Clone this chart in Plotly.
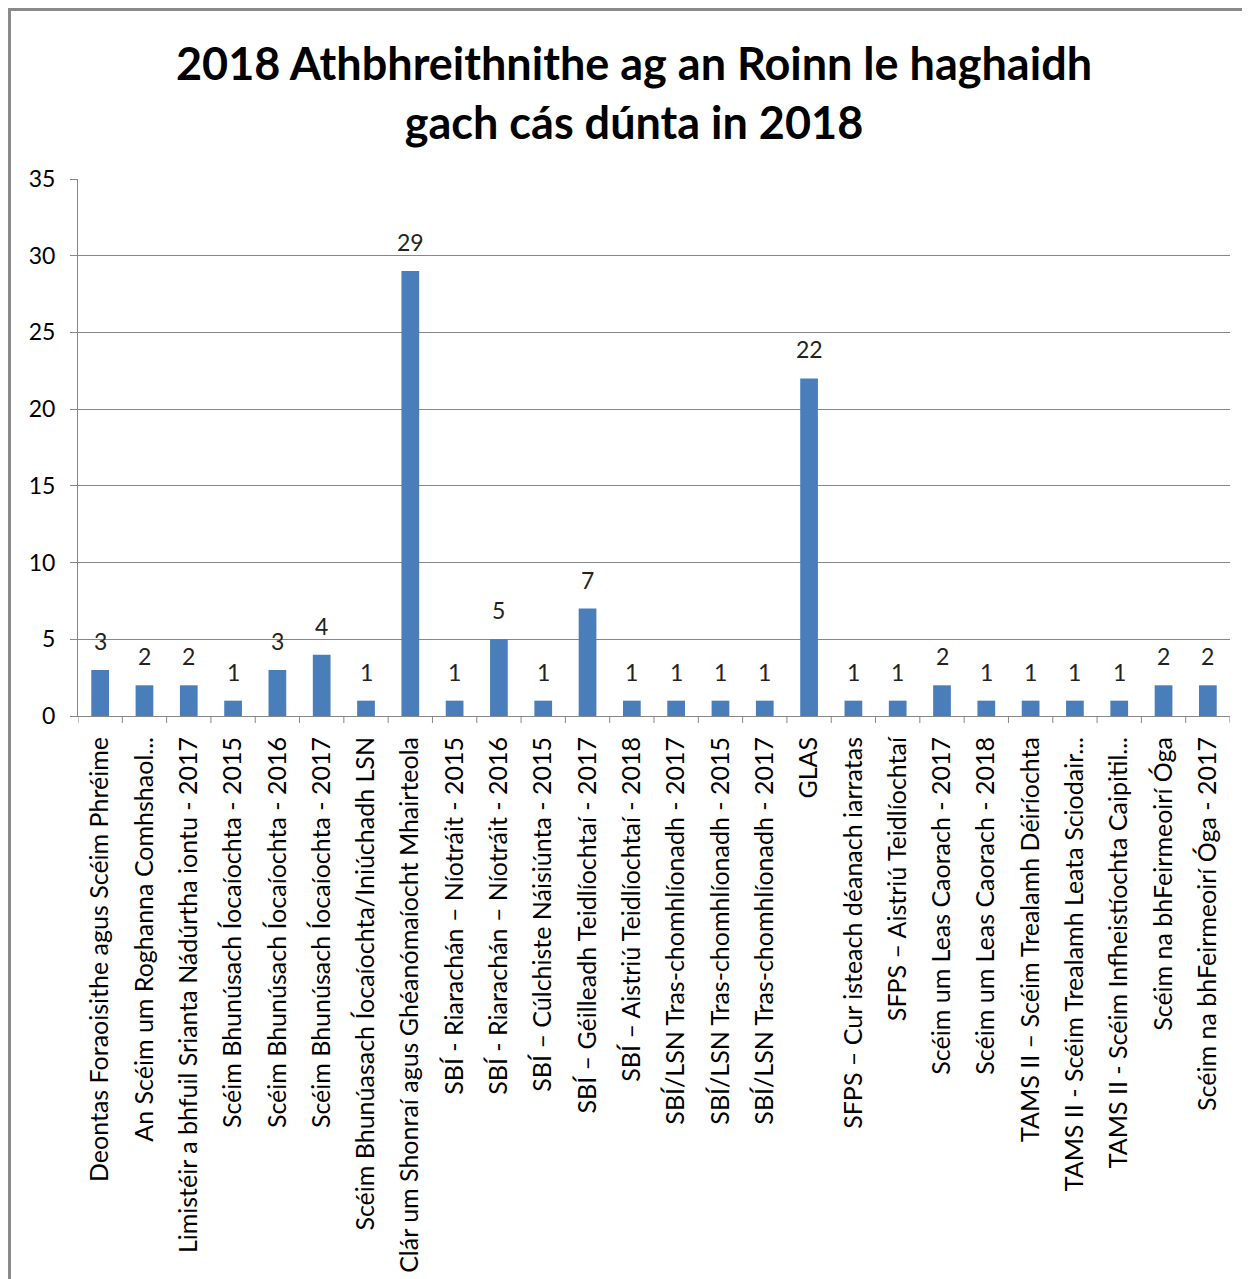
import plotly.graph_objects as go

categories = [
    "Deontas Foraoisithe agus Scéim Phréime",
    "An Scéim um Roghanna Comhshaol...",
    "Limistéir a bhfuil Srianta Nádúrtha iontu - 2017",
    "Scéim Bhunúsach Íocaíochta - 2015",
    "Scéim Bhunúsach Íocaíochta - 2016",
    "Scéim Bhunúsach Íocaíochta - 2017",
    "Scéim Bhunúasach Íocaíochta/Iniúchadh LSN",
    "Clár um Shonraí agus Ghéanómaíocht Mhairteola",
    "SBÍ - Riarachán – Níotráit - 2015",
    "SBÍ - Riarachán – Níotráit - 2016",
    "SBÍ – Cúlchiste Náisiúnta - 2015",
    "SBÍ – Géilleadh Teidlíochtaí - 2017",
    "SBÍ – Aistriú Teidlíochtaí - 2018",
    "SBÍ/LSN Tras-chomhlíonadh - 2017",
    "SBÍ/LSN Tras-chomhlíonadh - 2015",
    "SBÍ/LSN Tras-chomhlíonadh - 2017",
    "GLAS",
    "SFPS – Cur isteach déanach iarratas",
    "SFPS – Aistriú Teidlíochtaí",
    "Scéim um Leas Caorach - 2017",
    "Scéim um Leas Caorach - 2018",
    "TAMS II – Scéim Trealamh Déiríochta",
    "TAMS II - Scéim Trealamh Leata Sciodair...",
    "TAMS II - Scéim Infheistíochta Caipitil...",
    "Scéim na bhFeirmeoirí Óga",
    "Scéim na bhFeirmeoirí Óga - 2017",
]
values = [3, 2, 2, 1, 3, 4, 1, 29, 1, 5, 1, 7, 1, 1, 1, 1, 22, 1, 1, 2, 1, 1, 1, 1, 2, 2]
y_ticks = [0, 5, 10, 15, 20, 25, 30, 35]
title_text = "2018 Athbhreithnithe ag an Roinn le haghaidh<br>gach cás dúnta in 2018"

positions = list(range(len(categories)))

# page has an 8px body margin; figure occupies the rest of the window
W, H = 1242, 1271
ml, mr, mt, mb = 70, 20, 171, 563
pw = W - ml - mr
ph = H - mt - mb
FONT = "Lato"
GRID = "#878787"

fig = go.Figure(go.Bar(
    x=positions,
    y=values,
    width=0.40,
    marker=dict(color="#4A7EBB", line=dict(width=0)),
    hoverinfo="x+y",
))

for xi, v in zip(positions, values):
    fig.add_annotation(x=xi, y=v, text=str(v), showarrow=False,
                       xanchor="center", yanchor="bottom", yshift=13,
                       font=dict(family=FONT, size=23, color="#222222"))

fig.update_layout(
    width=W, height=H,
    margin=dict(l=ml, r=mr, t=mt, b=mb, autoexpand=False),
    paper_bgcolor="white",
    plot_bgcolor="white",
    showlegend=False,
    title=dict(
        text="<b>" + title_text + "</b>",
        x=(634 - 8) / W, xanchor="center",
        y=1 - 72 / H, yanchor="middle",
        font=dict(family=FONT, size=45, color="black"),
    ),
    xaxis=dict(
        range=[-0.5, len(categories) - 0.5],
        tickmode="array",
        tickvals=positions,
        ticktext=categories,
        tickangle=-90,
        tickfont=dict(family=FONT, size=25, color="black"),
        ticklabelstandoff=10,
        showgrid=False,
        showline=True,
        linecolor=GRID,
        linewidth=1,
        ticks="",
        zeroline=False,
    ),
    yaxis=dict(
        range=[0, 35],
        tickmode="array",
        tickvals=y_ticks,
        tickfont=dict(family=FONT, size=23, color="black"),
        ticklabelstandoff=10,
        showgrid=True,
        gridcolor=GRID,
        gridwidth=1,
        showline=True,
        linecolor=GRID,
        linewidth=1,
        ticks="outside",
        ticklen=7,
        tickcolor=GRID,
        zeroline=False,
    ),
)

# Category boundary tick marks below the x axis (Excel style)
for i in range(len(categories) + 1):
    fig.add_shape(type="line", xref="x", yref="paper",
                  x0=i - 0.5, x1=i - 0.5, y0=0, y1=-7 / ph,
                  line=dict(color=GRID, width=1))

# Outer chart border (top and left visible; right/bottom fall outside the window)
fig.add_shape(type="rect", xref="paper", yref="paper",
              x0=(1.5 - ml) / pw, x1=(W + 20 - ml) / pw,
              y0=-(mb + 20) / ph, y1=1 + (mt - 1.5) / ph,
              line=dict(color="#8a8a8a", width=3), fillcolor="rgba(0,0,0,0)",
              layer="below")

fig.write_html("out.html")
